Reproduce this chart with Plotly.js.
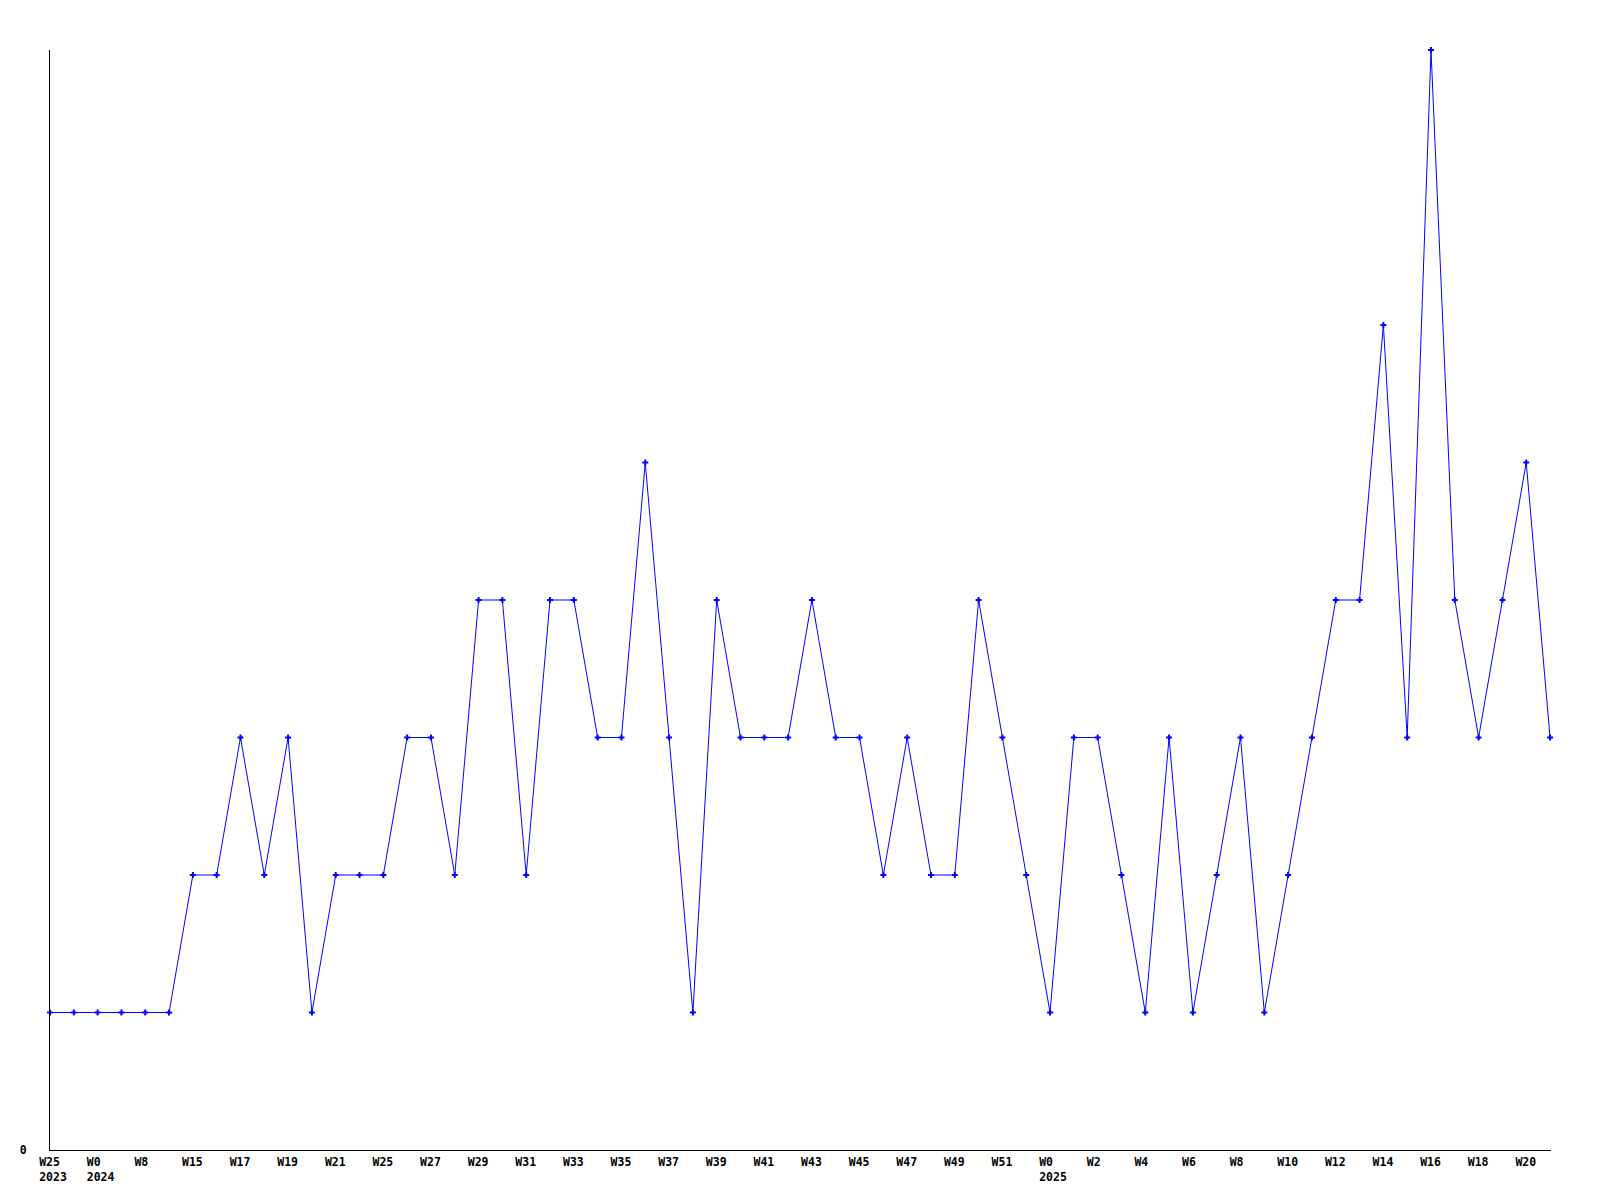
<!DOCTYPE html>
<html>
<head>
<meta charset="utf-8">
<script src="https://cdn.plot.ly/plotly-3.0.1.min.js"></script>
<style>html,body{margin:0;padding:0;background:#fff;}#chart{width:1600px;height:1200px;}</style>
</head>
<body>
<div id="chart"></div>
<script>
// Weekly counts, one per point (64 points)
var counts = [1,1,1,1,1,1,2,2,3,2,3,1,2,2,2,3,3,2,4,4,2,4,4,3,3,5,3,1,4,3,3,3,4,3,3,2,3,2,2,4,3,2,1,3,3,2,1,3,1,2,3,1,2,3,4,4,6,3,8,4,3,4,5,3];
// Labels shown on every second point
var weekLabels = ["W25","W0","W8","W15","W17","W19","W21","W25","W27","W29","W31","W33","W35","W37","W39","W41","W43","W45","W47","W49","W51","W0","W2","W4","W6","W8","W10","W12","W14","W16","W18","W20"];
var yearLabels = ["2023","2024","","","","","","","","","","","","","","","","","","","","2025","","","","","","","","","",""];

var NB = "\u00A0";
function pad(s){ while (s.length < 4) s += NB; return s; }

var xIdx = counts.map(function(_, i){ return i; });
var tickvals = weekLabels.map(function(_, i){ return i * 2; });
var ticktext = weekLabels.map(function(w, i){
  var t = pad(w);
  if (yearLabels[i]) t += "<br>" + pad(yearLabels[i]);
  return t;
});

var trace = {
  x: xIdx,
  y: counts,
  type: "scatter",
  mode: "lines+markers",
  line: {color: "#0000ff", width: 1},
  marker: {color: "#0000ff", symbol: "cross", size: 5},
  cliponaxis: false,
  hoverinfo: "none"
};

var fontTick = {family: "DejaVu Sans Mono", size: 11.5, color: "#000", weight: "bold"};

var layout = {
  width: 1600, height: 1200,
  margin: {l: 50, r: 49, t: 50, b: 50},
  paper_bgcolor: "#fff", plot_bgcolor: "#fff",
  showlegend: false,
  xaxis: {
    range: [0, 63.04],
    tickmode: "array", tickvals: tickvals, ticktext: ticktext,
    showgrid: false, zeroline: false,
    showline: true, linecolor: "#000", linewidth: 1,
    ticks: "", tickangle: 0,
    ticklabelshift: 3, ticklabelstandoff: 1,
    tickfont: fontTick
  },
  yaxis: {
    range: [0, 8],
    tickmode: "array", tickvals: [0], ticktext: ["0"],
    showgrid: false, zeroline: false,
    showline: true, linecolor: "#000", linewidth: 1,
    ticks: "", ticklabelstandoff: 20,
    tickfont: fontTick
  }
};

Plotly.newPlot("chart", [trace], layout, {displayModeBar: false, staticPlot: true});
</script>
</body>
</html>
